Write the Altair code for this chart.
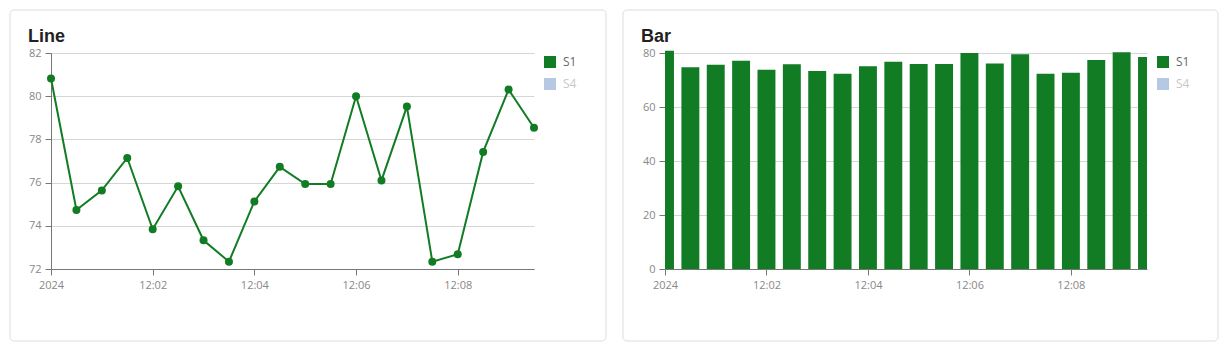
import altair as alt
import pandas as pd

# ---- data ----
times = ["00:00:00", "00:00:30", "00:01:00", "00:01:30", "00:02:00", "00:02:30",
         "00:03:00", "00:03:30", "00:04:00", "00:04:30", "00:05:00", "00:05:30",
         "00:06:00", "00:06:30", "00:07:00", "00:07:30", "00:08:00", "00:08:30",
         "00:09:00", "00:09:30"]
s1 = [80.82, 74.73, 75.64, 77.14, 73.84, 75.83, 73.33, 72.34, 75.13, 76.73,
      75.93, 75.93, 80.0, 76.1, 79.52, 72.34, 72.68, 77.42, 80.31, 78.54]
series_names = ["S1", "S4"]
series_colors = ["#117c24", "#b5c8e4"]
legend_label_colors = ["#666666", "#c8c8c8"]
line_y_ticks = [72, 74, 76, 78, 80, 82]
bar_y_ticks = [0, 20, 40, 60, 80]
titles = ["Line", "Bar"]
# x domain (UTC ms) = 2024-01-01 00:00:00 .. 00:09:30
x_domain = [1704067200000, 1704067770000]
# x tick positions (UTC ms): 00:00, 00:02, 00:04, 00:06, 00:08
x_ticks = [1704067200000, 1704067320000, 1704067440000, 1704067560000, 1704067680000]

df = pd.DataFrame({
    "t": ["2024-01-01T" + t + "Z" for t in times],
    "value": s1,
    "series": ["S1"] * len(s1),
})

GREEN = series_colors[0]
AXIS_C = "#777777"
LABEL_C = "#888888"
GRID_C = "#d6d6d6"
FONT = "Open Sans"


def x_axis():
    return alt.Axis(format="%H:%M", formatType="utc", values=x_ticks,
                    grid=False, domainColor=AXIS_C, tickColor=AXIS_C, tickSize=6,
                    labelPadding=4, labelColor=LABEL_C, labelFontSize=11,
                    labelFont=FONT, title=None, labelFlush=False)


def y_axis(vals):
    return alt.Axis(values=vals, grid=True, gridColor=GRID_C, domainColor=AXIS_C,
                    tickColor=AXIS_C, tickSize=6, labelPadding=4,
                    labelColor=LABEL_C, labelFontSize=11, labelFont=FONT,
                    title=None)


dummy = alt.Data(values=[{}])


def card(x0, x1):
    return alt.Chart(dummy).mark_rect(fill="white", fillOpacity=0, stroke="#dddddd",
                                      strokeWidth=1, cornerRadius=4).encode(
        x=alt.value(x0), x2=alt.value(x1), y=alt.value(-43), y2=alt.value(288))


def title_text(txt, dx):
    return alt.Chart(dummy).mark_text(text=txt, font="Liberation Sans", fontSize=18,
                                      fontWeight="bold", color="#222222", align="left",
                                      baseline="alphabetic").encode(
        x=alt.value(dx), y=alt.value(-11))


def legend_layers(cx):
    layers = []
    for i, (name, col, lcol) in enumerate(zip(series_names, series_colors, legend_label_colors)):
        cy = 9 + 22 * i
        layers.append(alt.Chart(dummy).mark_square(size=144, color=col, opacity=1,
                                                   filled=True).encode(
            x=alt.value(cx), y=alt.value(cy)))
        layers.append(alt.Chart(dummy).mark_text(text=name, font=FONT, fontSize=12,
                                                 color=lcol, align="left",
                                                 baseline="middle").encode(
            x=alt.value(cx + 13), y=alt.value(cy)))
    return layers


base = alt.Chart(df)

x_scale_line = alt.Scale(type="utc", domain=x_domain)
y_line = alt.Y("value:Q", scale=alt.Scale(domain=[72, 82], nice=False, zero=False),
               axis=y_axis(line_y_ticks))

line = base.mark_line(strokeWidth=2, color=GREEN).encode(
    x=alt.X("t:T", scale=x_scale_line, axis=x_axis()), y=y_line)
pts = base.mark_circle(size=64, opacity=1, color=GREEN).encode(
    x=alt.X("t:T", scale=x_scale_line, axis=x_axis()), y=y_line)

left = alt.layer(card(-41, 555), title_text(titles[0], -23), line, pts,
                 *legend_layers(499)).properties(width=483, height=216)

bars = base.transform_calculate(
    x0="toDate(datum.t) - 10600", x1="toDate(datum.t) + 10600"
).mark_bar(opacity=1, color=GREEN).encode(
    x=alt.X("x0:T", scale=alt.Scale(type="utc", domain=x_domain, clamp=True), axis=x_axis()),
    x2="x1:T",
    y=alt.Y("value:Q", scale=alt.Scale(domain=[0, 80], nice=False), axis=y_axis(bar_y_ticks)),
    y2=alt.datum(0),
)

right = alt.layer(card(-42, 553), title_text(titles[1], -24), bars,
                  *legend_layers(498)).properties(width=482, height=216)

chart = alt.hconcat(left, right, spacing=131, bounds="flush").properties(
    padding={"left": 9, "top": 9, "right": 0, "bottom": 0},
    background="white",
).configure_view(stroke=None, fill=None)

chart.save("out.html", embed_options={"renderer": "svg", "actions": False})
